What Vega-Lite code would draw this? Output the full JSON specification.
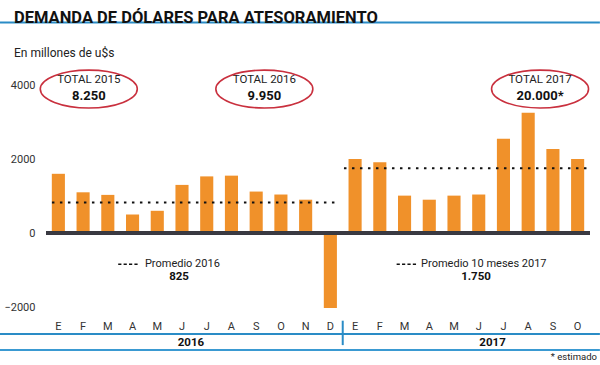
{
  "$schema": "https://vega.github.io/schema/vega-lite/v6.json",
  "width": 544,
  "height": 222,
  "autosize": {"type": "none"},
  "padding": {"left": 46, "top": 85, "right": 10, "bottom": 58},
  "background": "white",
  "title": {
    "text": "DEMANDA DE DÓLARES PARA ATESORAMIENTO",
    "subtitle": "En millones de u$s",
    "anchor": "start",
    "frame": "group",
    "dx": -32,
    "dy": 38,
    "offset": 0,
    "font": "Roboto",
    "fontSize": 16.5,
    "fontWeight": "bold",
    "color": "#111111",
    "subtitleFont": "Roboto",
    "subtitleFontSize": 12,
    "subtitleColor": "#222222",
    "subtitlePadding": 22
  },
  "config": {
    "view": {"stroke": null},
    "font": "Roboto"
  },
  "datasets": {
    "bars": [
      {"key": "2016-E", "v": 1600},
      {"key": "2016-F", "v": 1100},
      {"key": "2016-M", "v": 1030},
      {"key": "2016-A", "v": 500},
      {"key": "2016-My", "v": 600},
      {"key": "2016-J", "v": 1300},
      {"key": "2016-Jl", "v": 1530},
      {"key": "2016-Ag", "v": 1550},
      {"key": "2016-S", "v": 1120},
      {"key": "2016-O", "v": 1040},
      {"key": "2016-N", "v": 900},
      {"key": "2016-D", "v": -2030},
      {"key": "2017-E", "v": 2000},
      {"key": "2017-F", "v": 1910},
      {"key": "2017-M", "v": 1010},
      {"key": "2017-A", "v": 900},
      {"key": "2017-My", "v": 1010},
      {"key": "2017-J", "v": 1040},
      {"key": "2017-Jl", "v": 2550},
      {"key": "2017-Ag", "v": 3250},
      {"key": "2017-S", "v": 2270},
      {"key": "2017-O", "v": 2000}
    ],
    "rules": [
      {"p": 0.24, "p2": 11.85, "v": 825, "role": "avg"},
      {"p": 12.05, "p2": 22.07, "v": 1750, "role": "avg"},
      {"p": 2.92, "p2": 3.73, "v": -846, "role": "leg"},
      {"p": 14.18, "p2": 14.99, "v": -846, "role": "leg"},
      {"p": -1.86, "p2": 22.4, "v": 5690, "role": "line"},
      {"p": -1.86, "p2": 22.4, "v": -2730, "role": "line"},
      {"p": -1.86, "p2": 22.4, "v": -3165, "role": "line2"}
    ],
    "divider": [
      {"p": 12.0, "v": -2370, "v2": -3030}
    ],
    "ellipses": [
      {"p": 1.73, "v": 3890},
      {"p": 8.83, "v": 3890},
      {"p": 19.98, "v": 3890}
    ],
    "notes": [
      {"p": 1.73, "v": 4130, "t": "TOTAL 2015", "role": "total"},
      {"p": 1.73, "v": 3690, "t": "8.250", "role": "totalnum"},
      {"p": 8.83, "v": 4130, "t": "TOTAL 2016", "role": "total"},
      {"p": 8.83, "v": 3690, "t": "9.950", "role": "totalnum"},
      {"p": 19.98, "v": 4130, "t": "TOTAL 2017", "role": "total"},
      {"p": 19.98, "v": 3690, "t": "20.000*", "role": "totalnum"},
      {"p": 4.0, "v": -846, "t": "Promedio 2016", "role": "prom"},
      {"p": 15.17, "v": -846, "t": "Promedio 10 meses 2017", "role": "prom"},
      {"p": 5.38, "v": -1190, "t": "825", "role": "promnum"},
      {"p": 17.39, "v": -1190, "t": "1.750", "role": "promnum"},
      {"p": 5.86, "v": -2973, "t": "2016", "role": "year"},
      {"p": 18.06, "v": -2973, "t": "2017", "role": "year"},
      {"p": 22.28, "v": -3350, "t": "* estimado", "role": "nota"}
    ]
  },
  "resolve": {"scale": {"x": "independent"}},
  "layer": [
    {
      "data": {"name": "bars"},
      "layer": [
        {
          "mark": {"type": "bar", "color": "#F0912A"},
          "encoding": {
            "x": {
              "field": "key",
              "type": "nominal",
              "sort": null,
              "scale": {"paddingInner": 0.47, "paddingOuter": 0.235},
              "axis": {
                "title": null,
                "domain": false,
                "ticks": false,
                "labelAngle": 0,
                "labelPadding": 13,
                "labelFontSize": 11,
                "labelColor": "#333333",
                "labelExpr": "substring(split(datum.label, '-')[1], 0, 1)"
              }
            },
            "y": {
              "field": "v",
              "type": "quantitative",
              "scale": {"domain": [-2000, 4000], "nice": false},
              "axis": {
                "title": null,
                "values": [-2000, 0, 2000, 4000],
                "format": "d",
                "grid": false,
                "domain": false,
                "ticks": false,
                "labelPadding": 11,
                "labelFontSize": 11,
                "labelColor": "#333333"
              }
            }
          }
        },
        {
          "mark": {"type": "rule", "color": "#3a3a42", "strokeWidth": 2.5},
          "encoding": {
            "y": {"datum": 0, "type": "quantitative", "scale": {"domain": [-2000, 4000], "nice": false}}
          }
        }
      ]
    },
    {
      "layer": [
        {
          "data": {"name": "rules"},
          "transform": [{"filter": "datum.role == 'avg'"}],
          "mark": {"type": "rule", "color": "#111111", "strokeWidth": 2.2, "strokeDash": [2.5, 5.5]},
          "encoding": {
            "x": {"field": "p", "type": "quantitative", "scale": {"domain": [0, 22], "nice": false, "zero": false}, "axis": null},
            "x2": {"field": "p2"},
            "y": {"field": "v", "type": "quantitative", "scale": {"domain": [-2000, 4000], "nice": false}}
          }
        },
        {
          "data": {"name": "rules"},
          "transform": [{"filter": "datum.role == 'leg'"}],
          "mark": {"type": "rule", "color": "#111111", "strokeWidth": 1.6, "strokeDash": [3.2, 2.2]},
          "encoding": {
            "x": {"field": "p", "type": "quantitative", "scale": {"domain": [0, 22], "nice": false, "zero": false}, "axis": null},
            "x2": {"field": "p2"},
            "y": {"field": "v", "type": "quantitative", "scale": {"domain": [-2000, 4000], "nice": false}}
          }
        },
        {
          "data": {"name": "rules"},
          "transform": [{"filter": "datum.role == 'line'"}],
          "mark": {"type": "rule", "color": "#2a8cc6", "strokeWidth": 2},
          "encoding": {
            "x": {"field": "p", "type": "quantitative", "scale": {"domain": [0, 22], "nice": false, "zero": false}, "axis": null},
            "x2": {"field": "p2"},
            "y": {"field": "v", "type": "quantitative", "scale": {"domain": [-2000, 4000], "nice": false}}
          }
        },
        {
          "data": {"name": "rules"},
          "transform": [{"filter": "datum.role == 'line2'"}],
          "mark": {"type": "rule", "color": "#3a9ad2", "strokeWidth": 2},
          "encoding": {
            "x": {"field": "p", "type": "quantitative", "scale": {"domain": [0, 22], "nice": false, "zero": false}, "axis": null},
            "x2": {"field": "p2"},
            "y": {"field": "v", "type": "quantitative", "scale": {"domain": [-2000, 4000], "nice": false}}
          }
        },
        {
          "data": {"name": "divider"},
          "mark": {"type": "rule", "color": "#2a8cc6", "strokeWidth": 2},
          "encoding": {
            "x": {"field": "p", "type": "quantitative", "scale": {"domain": [0, 22], "nice": false, "zero": false}, "axis": null},
            "y": {"field": "v", "type": "quantitative", "scale": {"domain": [-2000, 4000], "nice": false}},
            "y2": {"field": "v2"}
          }
        },
        {
          "data": {"name": "ellipses"},
          "mark": {
            "type": "point",
            "filled": false,
            "shape": "M-1,0A1,0.39,0,1,1,1,0A1,0.39,0,1,1,-1,0Z",
            "size": 9409,
            "stroke": "#c9303e",
            "strokeWidth": 1.6,
            "opacity": 1
          },
          "encoding": {
            "x": {"field": "p", "type": "quantitative", "scale": {"domain": [0, 22], "nice": false, "zero": false}, "axis": null},
            "y": {"field": "v", "type": "quantitative", "scale": {"domain": [-2000, 4000], "nice": false}}
          }
        },
        {
          "data": {"name": "notes"},
          "transform": [{"filter": "datum.role == 'total'"}],
          "mark": {"type": "text", "fontSize": 11.5, "color": "#222222", "align": "center", "baseline": "middle"},
          "encoding": {
            "x": {"field": "p", "type": "quantitative", "scale": {"domain": [0, 22], "nice": false, "zero": false}, "axis": null},
            "y": {"field": "v", "type": "quantitative", "scale": {"domain": [-2000, 4000], "nice": false}},
            "text": {"field": "t"}
          }
        },
        {
          "data": {"name": "notes"},
          "transform": [{"filter": "datum.role == 'totalnum'"}],
          "mark": {"type": "text", "fontSize": 13, "fontWeight": "bold", "color": "#111111", "align": "center", "baseline": "middle"},
          "encoding": {
            "x": {"field": "p", "type": "quantitative", "scale": {"domain": [0, 22], "nice": false, "zero": false}, "axis": null},
            "y": {"field": "v", "type": "quantitative", "scale": {"domain": [-2000, 4000], "nice": false}},
            "text": {"field": "t"}
          }
        },
        {
          "data": {"name": "notes"},
          "transform": [{"filter": "datum.role == 'prom'"}],
          "mark": {"type": "text", "fontSize": 11, "color": "#222222", "align": "left", "baseline": "middle"},
          "encoding": {
            "x": {"field": "p", "type": "quantitative", "scale": {"domain": [0, 22], "nice": false, "zero": false}, "axis": null},
            "y": {"field": "v", "type": "quantitative", "scale": {"domain": [-2000, 4000], "nice": false}},
            "text": {"field": "t"}
          }
        },
        {
          "data": {"name": "notes"},
          "transform": [{"filter": "datum.role == 'promnum'"}],
          "mark": {"type": "text", "fontSize": 11.5, "fontWeight": "bold", "color": "#111111", "align": "center", "baseline": "middle"},
          "encoding": {
            "x": {"field": "p", "type": "quantitative", "scale": {"domain": [0, 22], "nice": false, "zero": false}, "axis": null},
            "y": {"field": "v", "type": "quantitative", "scale": {"domain": [-2000, 4000], "nice": false}},
            "text": {"field": "t"}
          }
        },
        {
          "data": {"name": "notes"},
          "transform": [{"filter": "datum.role == 'year'"}],
          "mark": {"type": "text", "fontSize": 11.5, "fontWeight": "bold", "color": "#111111", "align": "center", "baseline": "middle"},
          "encoding": {
            "x": {"field": "p", "type": "quantitative", "scale": {"domain": [0, 22], "nice": false, "zero": false}, "axis": null},
            "y": {"field": "v", "type": "quantitative", "scale": {"domain": [-2000, 4000], "nice": false}},
            "text": {"field": "t"}
          }
        },
        {
          "data": {"name": "notes"},
          "transform": [{"filter": "datum.role == 'nota'"}],
          "mark": {"type": "text", "fontSize": 9.5, "color": "#222222", "align": "right", "baseline": "middle"},
          "encoding": {
            "x": {"field": "p", "type": "quantitative", "scale": {"domain": [0, 22], "nice": false, "zero": false}, "axis": null},
            "y": {"field": "v", "type": "quantitative", "scale": {"domain": [-2000, 4000], "nice": false}},
            "text": {"field": "t"}
          }
        }
      ]
    }
  ]
}
